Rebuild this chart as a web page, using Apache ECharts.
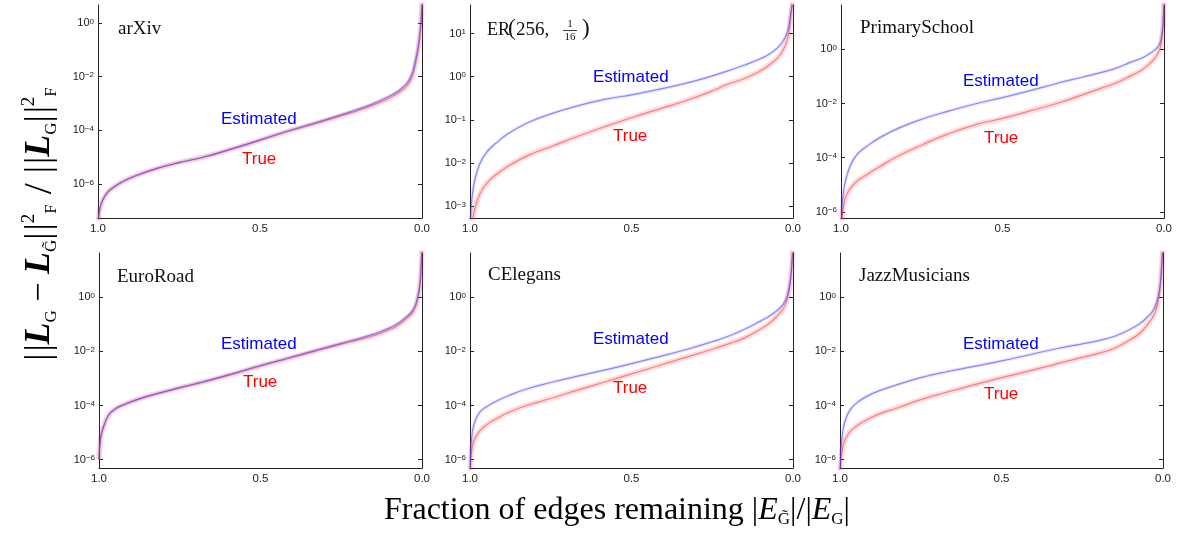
<!DOCTYPE html>
<html><head><meta charset="utf-8">
<script src="https://cdn.jsdelivr.net/npm/echarts@6/dist/echarts.min.js"></script>
<style>html,body{margin:0;padding:0;background:#fff}#c{width:1178px;height:533px}</style>
</head><body><div id="c"></div><script>
// x: fraction of edges remaining
const fraction = [1.0,0.997,0.993,0.985,0.97,0.95,0.92,0.88,0.82,0.75,0.67,0.58,0.5,0.42,0.33,0.25,0.2,0.15,0.1,0.07,0.045,0.03,0.02,0.012,0.007,0.003,0.0];
// y values, read as log10 of the normalized error
const arxivEst    = [-7.6,-7.1,-6.85,-6.58,-6.3,-6.1,-5.88,-5.67,-5.42,-5.2,-4.98,-4.66,-4.35,-4.04,-3.72,-3.42,-3.22,-3.0,-2.72,-2.5,-2.22,-1.86,-1.38,-0.87,-0.4,0.1,0.8];
const arxivTrue   = [-7.6,-7.1,-6.85,-6.58,-6.3,-6.1,-5.88,-5.67,-5.42,-5.2,-4.98,-4.67,-4.37,-4.06,-3.75,-3.46,-3.27,-3.06,-2.79,-2.58,-2.32,-1.98,-1.52,-1.02,-0.55,0.0,0.8];
const erEst       = [-3.8,-3.1,-2.75,-2.39,-2.02,-1.76,-1.54,-1.31,-1.06,-0.86,-0.68,-0.52,-0.42,-0.3,-0.15,0.02,0.14,0.27,0.42,0.54,0.69,0.84,0.98,1.2,1.47,1.7,2.2];
const erTrue      = [-4.2,-3.8,-3.45,-3.05,-2.72,-2.48,-2.27,-2.06,-1.82,-1.62,-1.39,-1.15,-0.95,-0.76,-0.55,-0.33,-0.17,-0.04,0.14,0.29,0.46,0.63,0.8,1.06,1.39,1.65,2.2];
const primaryEst  = [-6.8,-5.9,-5.32,-4.8,-4.26,-3.88,-3.58,-3.26,-2.9,-2.58,-2.29,-2.0,-1.78,-1.54,-1.25,-1.02,-0.87,-0.70,-0.46,-0.33,-0.16,-0.04,0.08,0.25,0.52,0.95,2.0];
const primaryTrue = [-7.0,-6.3,-5.81,-5.45,-5.12,-4.86,-4.63,-4.33,-3.92,-3.53,-3.13,-2.77,-2.55,-2.29,-1.99,-1.67,-1.46,-1.25,-0.96,-0.77,-0.53,-0.35,-0.17,0.05,0.4,0.85,2.0];
const euroEst     = [-6.0,-5.4,-5.08,-4.75,-4.35,-4.13,-3.95,-3.77,-3.56,-3.34,-3.1,-2.8,-2.52,-2.26,-1.96,-1.7,-1.54,-1.36,-1.13,-0.93,-0.68,-0.5,-0.27,0.1,0.45,1.09,2.0];
const euroTrue    = [-6.0,-5.4,-5.08,-4.75,-4.35,-4.13,-3.95,-3.77,-3.56,-3.35,-3.11,-2.82,-2.54,-2.28,-1.99,-1.73,-1.58,-1.42,-1.2,-1.0,-0.76,-0.58,-0.35,0.0,0.35,1.0,2.0];
const elegansEst  = [-6.6,-5.5,-5.0,-4.6,-4.25,-4.05,-3.85,-3.63,-3.37,-3.15,-2.92,-2.68,-2.45,-2.21,-1.93,-1.64,-1.44,-1.18,-0.87,-0.67,-0.44,-0.25,-0.03,0.35,0.75,1.35,2.0];
const elegansTrue = [-6.8,-5.9,-5.52,-5.22,-4.95,-4.72,-4.5,-4.25,-3.98,-3.74,-3.44,-3.12,-2.83,-2.54,-2.21,-1.92,-1.72,-1.5,-1.17,-0.93,-0.63,-0.42,-0.15,0.28,0.7,1.3,2.0];
const jazzEst     = [-6.6,-5.6,-5.1,-4.6,-4.18,-3.92,-3.68,-3.46,-3.22,-2.97,-2.75,-2.54,-2.35,-2.14,-1.9,-1.72,-1.6,-1.44,-1.17,-0.96,-0.69,-0.47,-0.21,0.2,0.7,1.4,2.0];
const jazzTrue    = [-6.8,-6.0,-5.65,-5.28,-4.98,-4.77,-4.55,-4.32,-4.08,-3.78,-3.51,-3.22,-2.97,-2.74,-2.46,-2.22,-2.07,-1.88,-1.56,-1.31,-0.96,-0.7,-0.4,0.05,0.6,1.3,2.0];
// y-axis extents (log10) and tick labels (log10)
const arxivRange = [-7.26, 0.67];
const erRange = [-3.27, 1.66];
const primaryRange = [-6.23, 1.64];
const bottomRange = [-6.31, 1.64];
const ticksEven = [-6, -4, -2, 0];
const ticksER = [-3, -2, -1, 0, 1];
const xTicks = [1.0, 0.5, 0.0];
const names = ['arXiv', 'ER', 'PrimarySchool', 'EuroRoad', 'CElegans', 'JazzMusicians'];

const panels = [
  {est: arxivEst, tru: arxivTrue, range: arxivRange, ticks: ticksEven},
  {est: erEst, tru: erTrue, range: erRange, ticks: ticksER},
  {est: primaryEst, tru: primaryTrue, range: primaryRange, ticks: ticksEven},
  {est: euroEst, tru: euroTrue, range: bottomRange, ticks: ticksEven},
  {est: elegansEst, tru: elegansTrue, range: bottomRange, ticks: ticksEven},
  {est: jazzEst, tru: jazzTrue, range: bottomRange, ticks: ticksEven}
];
const layout = [
  {left: 98, top: 5, width: 324, height: 213},
  {left: 470, top: 5, width: 323, height: 213},
  {left: 841, top: 5, width: 323, height: 213},
  {left: 99, top: 253, width: 323, height: 215},
  {left: 470, top: 253, width: 323, height: 215},
  {left: 840, top: 253, width: 323, height: 215}
];
const estPos = [[221,119],[593,77],[963,81],[221,344],[593,339],[963,344]];
const truePos = [[242,159],[613,136],[984,138],[243,382],[613,388],[984,394]];
const titlePos = [[118,29],[488,30],[860,28],[117,277],[488,275],[859,276]];

const AX = '#222';
const pow10 = e => Math.pow(10, e);
const pts = arr => fraction.map((f, i) => [f, pow10(arr[i])]);
const fmt = v => {
  const e = Math.round(Math.log10(v));
  return '{b|10}{p|' + (e < 0 ? '\u2212' + (-e) : String(e)) + '}';
};
const grids = [], xAxes = [], yAxes = [], series = [], graphics = [];
panels.forEach((p, i) => {
  grids.push(Object.assign({containLabel: false}, layout[i]));
  xAxes.push({
    type: 'value', gridIndex: i, min: 0, max: 1, interval: 0.5, inverse: true,
    axisLine: {show: true, onZero: false, lineStyle: {color: AX, width: 1}},
    axisTick: {show: false}, splitLine: {show: false},
    axisLabel: {color: AX, fontSize: 11.5, fontFamily: 'Liberation Sans', margin: 5,
      customValues: xTicks, formatter: v => v.toFixed(1)}
  });
  const tv = p.ticks.map(pow10);
  const yBase = {
    type: 'log', logBase: 10, gridIndex: i, min: pow10(p.range[0]), max: pow10(p.range[1]),
    splitLine: {show: false}, minorTick: {show: false}, minorSplitLine: {show: false},
    axisLine: {show: true, onZero: false, lineStyle: {color: AX, width: 1}},
    axisTick: {show: true, inside: true, length: 4, customValues: tv, lineStyle: {color: AX}}
  };
  yAxes.push(Object.assign({}, yBase, {position: 'left',
    axisLabel: {show: true, customValues: tv, margin: 4, formatter: fmt, color: AX,
      rich: {
        b: {fontSize: 11, fontFamily: 'Liberation Sans', color: AX, lineHeight: 11, verticalAlign: 'bottom', padding: [6, 0, 0, 0]},
        p: {fontSize: 8, fontFamily: 'Liberation Sans', color: AX, lineHeight: 8, verticalAlign: 'top'}
      }}}));
  yAxes.push(Object.assign({}, yBase, {position: 'right', axisLabel: {show: false}}));
  const common = {type: 'line', xAxisIndex: i, yAxisIndex: 2 * i, symbol: 'none', showSymbol: false,
    smooth: 0.45, silent: true, animation: false, clip: true};
  series.push(Object.assign({}, common, {data: pts(p.tru), lineStyle: {color: 'rgba(255,40,40,0.17)', width: 5.5}, z: 1}));
  series.push(Object.assign({}, common, {data: pts(p.tru), lineStyle: {color: 'rgba(255,60,60,0.6)', width: 1.2}, z: 2}));
  series.push(Object.assign({}, common, {data: pts(p.est), lineStyle: {color: 'rgba(60,60,255,0.12)', width: 3.5}, z: 3}));
  series.push(Object.assign({}, common, {data: pts(p.est), lineStyle: {color: 'rgba(70,70,255,0.6)', width: 1.2}, z: 4}));

  graphics.push({type: 'text', x: estPos[i][0], y: estPos[i][1], z: 10,
    style: {text: 'Estimated', fill: '#0000ff', fontSize: 17, fontFamily: 'Liberation Sans', align: 'left', verticalAlign: 'middle', textAlign: 'left', textVerticalAlign: 'middle'}});
  graphics.push({type: 'text', x: truePos[i][0], y: truePos[i][1], z: 10,
    style: {text: 'True', fill: '#ff0000', fontSize: 17, fontFamily: 'Liberation Sans', align: 'left', verticalAlign: 'middle', textAlign: 'left', textVerticalAlign: 'middle'}});
  if (i !== 1) {
    graphics.push({type: 'text', x: titlePos[i][0], y: titlePos[i][1], z: 10,
      style: {text: names[i], fill: '#111', fontSize: 19, fontFamily: 'Liberation Serif', align: 'left', verticalAlign: 'middle', textAlign: 'left', textVerticalAlign: 'middle'}});
  }
});
// ER(256, 1/16) title
const tS = {fill: '#111', fontFamily: 'Liberation Serif', align: 'left', verticalAlign: 'middle', textAlign: 'left', textVerticalAlign: 'middle'};
graphics.push({type: 'text', x: 487, y: 30, z: 10, style: Object.assign({}, tS, {text: 'ER', fontSize: 18})});
graphics.push({type: 'text', x: 508, y: 29, z: 10, style: Object.assign({}, tS, {text: '(', fontSize: 23})});
graphics.push({type: 'text', x: 516, y: 30, z: 10, style: Object.assign({}, tS, {text: '256,', fontSize: 19})});
graphics.push({type: 'text', x: 570, y: 24, z: 10, style: Object.assign({}, tS, {text: '1', fontSize: 11, align: 'center', textAlign: 'center'})});
graphics.push({type: 'line', z: 10, shape: {x1: 563, y1: 30.5, x2: 577, y2: 30.5}, style: {stroke: '#111', lineWidth: 0.8}});
graphics.push({type: 'text', x: 570, y: 37, z: 10, style: Object.assign({}, tS, {text: '16', fontSize: 11, align: 'center', textAlign: 'center'})});
graphics.push({type: 'text', x: 582, y: 29, z: 10, style: Object.assign({}, tS, {text: ')', fontSize: 23})});

// axis titles
const serif = 'Liberation Serif';
graphics.push({type: 'text', x: 40, y: 224, rotation: Math.PI / 2, z: 10,
  style: {text: '{n||}{t| }{n||}{L|L}{s|G}{m| \u2212 }{L|L}{s|G\u0303}{n||}{t| }{n||}{p|2}{f|F}{sl| / }{n||}{t| }{n||}{L|L}{s|G}{n||}{t| }{n||}{p|2}{f|F}',
    align: 'center', verticalAlign: 'middle', textAlign: 'center', textVerticalAlign: 'middle', fill: '#000',
    rich: {
      n: {fontSize: 36, fontFamily: serif, lineHeight: 36, color: '#000'},
      t: {fontSize: 8, fontFamily: serif, lineHeight: 8, color: '#000'},
      m: {fontSize: 34, fontFamily: serif, lineHeight: 34, color: '#000'},
      sl: {fontSize: 40, fontFamily: serif, lineHeight: 40, color: '#000'},
      L: {fontSize: 36, fontFamily: serif, fontStyle: 'italic', fontWeight: 'bold', lineHeight: 36, color: '#000'},
      s: {fontSize: 17, fontFamily: serif, lineHeight: 17, verticalAlign: 'bottom', color: '#000'},
      f: {fontSize: 17, fontFamily: serif, lineHeight: 17, verticalAlign: 'bottom', color: '#000'},
      p: {fontSize: 19, fontFamily: serif, lineHeight: 19, verticalAlign: 'top', color: '#000'}
    }}});
graphics.push({type: 'text', x: 617, y: 511, z: 10,
  style: {text: '{n|Fraction of edges remaining |}{E|E}{s|G\u0303}{n||/|}{E|E}{s|G}{n||}',
    align: 'center', verticalAlign: 'middle', textAlign: 'center', textVerticalAlign: 'middle', fill: '#000',
    rich: {
      n: {fontSize: 32, fontFamily: serif, lineHeight: 34, color: '#000'},
      E: {fontSize: 32, fontFamily: serif, fontStyle: 'italic', lineHeight: 34, color: '#000'},
      s: {fontSize: 17, fontFamily: serif, lineHeight: 17, verticalAlign: 'bottom', color: '#000'}
    }}});

const chart = echarts.init(document.getElementById('c'), null, {renderer: 'canvas'});
chart.setOption({
  animation: false, backgroundColor: '#fff',
  grid: grids, xAxis: xAxes, yAxis: yAxes, series: series, graphic: graphics
});
</script></body></html>
